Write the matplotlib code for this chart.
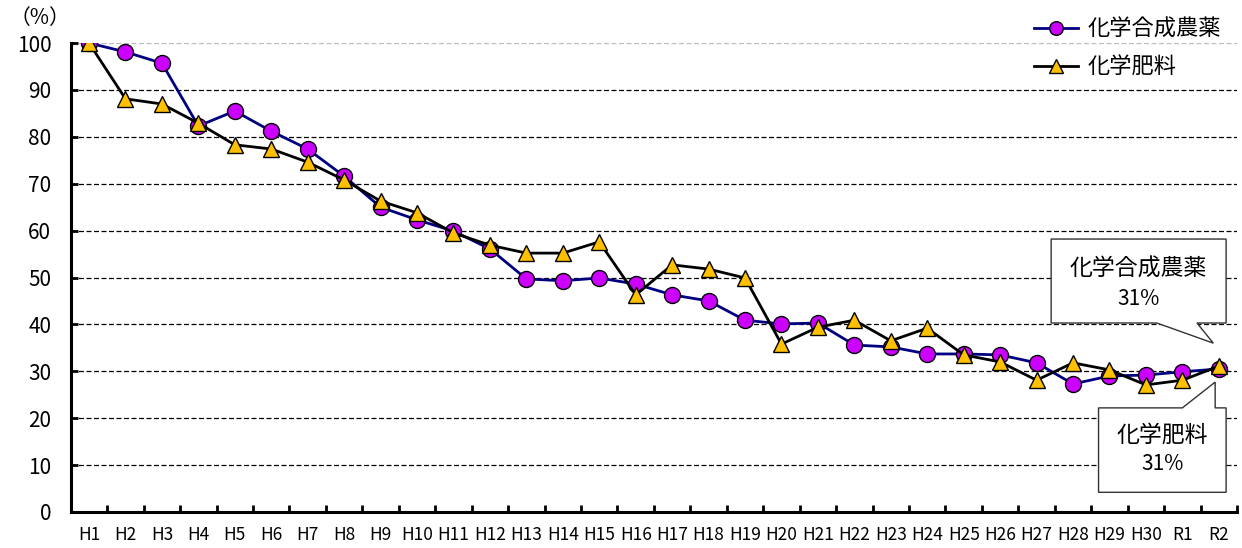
import numpy as np
import matplotlib.pyplot as plt
from matplotlib.patches import Polygon

plt.rcParams['font.family'] = ['Noto Sans CJK JP', 'DejaVu Sans']

# data
years = ['H%d' % i for i in range(1, 31)] + ['R1', 'R2']
pesticide = [100, 98.1, 95.7, 82.3, 85.5, 81.2, 77.4, 71.6, 65.0, 62.3,
             59.9, 56.1, 49.7, 49.3, 49.9, 48.6, 46.3, 45.0, 40.9, 40.1,
             40.3, 35.6, 35.2, 33.7, 33.7, 33.5, 31.8, 27.3, 29.0, 29.2,
             29.9, 30.5]
fertilizer = [100, 88.1, 87.0, 82.9, 78.3, 77.4, 74.6, 70.8, 66.3, 63.8,
              59.5, 56.9, 55.2, 55.2, 57.6, 46.3, 52.7, 51.8, 49.9, 35.8,
              39.4, 40.9, 36.5, 39.2, 33.5, 32.0, 28.1, 31.8, 30.3, 27.1,
              28.1, 31.1]
label_p = '化学合成農薬'
label_f = '化学肥料'

fig = plt.figure(figsize=(12.42, 5.48), dpi=100)
ax = fig.add_axes([0.057, 0.0657, 0.939, 0.8558])

x = np.arange(len(years))
ax.plot(x, pesticide, color='#000080', lw=2, marker='o', ms=11.5,
        mfc='#CC00FF', mec='black', mew=1, label=label_p, zorder=3)
ax.plot(x, fertilizer, color='black', lw=2, marker='^', ms=12,
        mfc='#FFC000', mec='black', mew=1, label=label_f, zorder=4)

ax.set_xlim(-0.5, len(years) - 0.5)
ax.set_ylim(0, 100)
ax.set_yticks(range(0, 101, 10))
ax.set_xticks(x)
ax.set_xticklabels(years, fontsize=12.5)
ax.set_xticks(np.arange(-0.5, len(years), 1), minor=True)
ax.tick_params(axis='x', which='major', length=0, pad=10)
ax.tick_params(axis='x', which='minor', direction='in', length=5, width=2)
ax.tick_params(axis='y', direction='in', length=5, width=2, labelsize=15, pad=14)

for v in range(10, 100, 10):
    ax.axhline(v, color='black', lw=0.9, ls=(0, (4, 2)), zorder=1)
ax.axhline(100, color='#BBBBBB', lw=0.9, ls=(0, (4, 2)), zorder=1)

for s in ['top', 'right']:
    ax.spines[s].set_visible(False)
for s in ['left', 'bottom']:
    ax.spines[s].set_linewidth(2.2)

fig.text(0.008, 0.967, '（%）', fontsize=15, va='center')

ax.legend(loc='upper right', bbox_to_anchor=(0.986, 1.054), frameon=False,
          fontsize=16, handlelength=2.0, handletextpad=0.4, labelspacing=0.7,
          borderaxespad=0, borderpad=0, markerscale=0.85)

# callouts (index units on x, % on y)
box1 = [(26.4, 58.2), (31.2, 58.2), (31.2, 40.3), (30.4, 40.3),
        (30.85, 36.0), (29.3, 40.3), (26.4, 40.3)]
box2 = [(27.7, 22.2), (27.7, 4.2), (31.2, 4.2), (31.2, 22.2),
        (30.9, 22.2), (30.9, 27.7), (30.0, 22.2)]
for pts in (box1, box2):
    ax.add_patch(Polygon(pts, closed=True, facecolor='white',
                         edgecolor='#333333', lw=1, zorder=5))
ax.text(28.8, 51.8, label_p, ha='center', va='center', fontsize=16.5, zorder=6)
ax.text(28.8, 45.5, '31%', ha='center', va='center', fontsize=15, zorder=6)
ax.text(29.45, 16.3, label_f, ha='center', va='center', fontsize=16.5, zorder=6)
ax.text(29.45, 10.2, '31%', ha='center', va='center', fontsize=15, zorder=6)

fig.savefig('out.png', dpi=100)
